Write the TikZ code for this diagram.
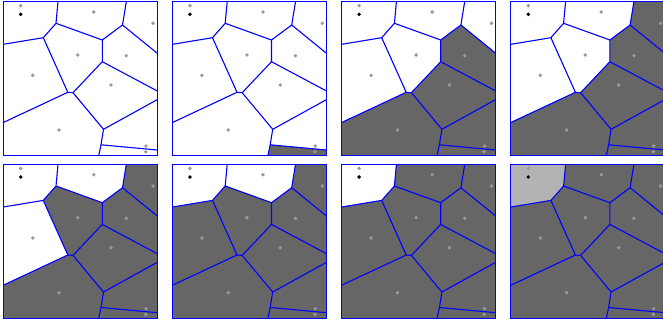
\documentclass[tikz,border=0pt]{standalone}
\definecolor{vblue}{RGB}{0,0,255}
\definecolor{vdark}{RGB}{102,102,102}
\definecolor{vlight}{RGB}{179,179,179}
\definecolor{vsite}{RGB}{153,153,153}
\tikzset{
  vedge/.style={draw=vblue, line width=1.1pt, line join=round},
  vframe/.style={draw=vblue, line width=1.1pt},
  vsitedot/.style={fill=vsite, draw=none},
  vquery/.style={fill=black, draw=none},
}
\newcommand\vcoords{%
  \coordinate (TL) at (3.3,1.7);
  \coordinate (TR) at (157.3,1.7);
  \coordinate (BR) at (157.3,155.6);
  \coordinate (BL) at (3.3,155.6);
  \coordinate (A) at (58,1.7);
  \coordinate (B) at (56,23.3);
  \coordinate (C) at (43.3,37.7);
  \coordinate (D) at (3.3,44.3);
  \coordinate (E) at (102.3,40);
  \coordinate (F) at (122.5,25);
  \coordinate (G) at (126.3,1.7);
  \coordinate (H) at (157.3,53.3);
  \coordinate (I) at (102.3,61.7);
  \coordinate (J) at (157.3,91);
  \coordinate (K) at (73,92.7);
  \coordinate (L) at (67.8,92.3);
  \coordinate (M) at (3.3,122.5);
  \coordinate (N) at (103.5,129.3);
  \coordinate (O) at (157.3,99.6);
  \coordinate (P) at (101,144.8);
  \coordinate (Q) at (98.7,155.6);
  \coordinate (R) at (157.3,150);
}
\expandafter\def\csname vc1\endcsname{(TL) -- (A) -- (B) -- (C) -- (D) -- cycle}
\expandafter\def\csname vc2\endcsname{(A) -- (G) -- (F) -- (E) -- (B) -- cycle}
\expandafter\def\csname vc3\endcsname{(G) -- (TR) -- (H) -- (F) -- cycle}
\expandafter\def\csname vc4\endcsname{(D) -- (C) -- (L) -- (M) -- cycle}
\expandafter\def\csname vc5\endcsname{(B) -- (E) -- (I) -- (K) -- (L) -- (C) -- cycle}
\expandafter\def\csname vc6\endcsname{(F) -- (H) -- (J) -- (I) -- (E) -- cycle}
\expandafter\def\csname vc7\endcsname{(I) -- (J) -- (O) -- (N) -- (K) -- cycle}
\expandafter\def\csname vc8\endcsname{(M) -- (L) -- (K) -- (N) -- (P) -- (Q) -- (BL) -- cycle}
\expandafter\def\csname vc9\endcsname{(N) -- (O) -- (R) -- (P) -- cycle}
\expandafter\def\csname vc10\endcsname{(P) -- (R) -- (BR) -- (Q) -- cycle}
% #1 dx, #2 dy, #3 dark cells, #4 light cells
\newcommand\vorpanel[4]{%
  \begin{scope}[shift={(#1,#2)}]
    \vcoords
    \foreach \c in {#3} {%
      \expandafter\let\expandafter\vcurcell\csname vc\c\endcsname
      \fill[vdark] \vcurcell;
    }
    \foreach \c in {#4} {%
      \expandafter\let\expandafter\vcurcell\csname vc\c\endcsname
      \fill[vlight] \vcurcell;
    }
    \draw[vedge] (A) -- (B) -- (C) -- (D);
    \draw[vedge] (B) -- (E) -- (F) -- (G);
    \draw[vedge] (F) -- (H);
    \draw[vedge] (E) -- (I) -- (J);
    \draw[vedge] (I) -- (K) -- (L) -- (C);
    \draw[vedge] (L) -- (M);
    \draw[vedge] (K) -- (N) -- (O);
    \draw[vedge] (N) -- (P) -- (Q);
    \draw[vedge] (P) -- (R);
    \draw[vframe] (TL) rectangle (BR);
    \foreach \p in {(20.7,5.7),(93.7,12),(153,23.3),(77.7,55),(126.3,55.7),
                    (32.7,75.3),(111,85),(59,130),(146,146),(145.7,151.7)}
      \fill[vsitedot] \p circle (1.9);
    \fill[vquery] (20.7,14.3) circle (1.9);
  \end{scope}
}
\begin{document}
\begin{tikzpicture}[x=1pt,y=-1pt]
  \useasboundingbox (0,0) rectangle (663,322);
  \clip (0,0) rectangle (663,322);
  \vorpanel{0}{0}{}{}
  \vorpanel{169.2}{0}{10}{}
  \vorpanel{338.4}{0}{10,9,7,8,6}{}
  \vorpanel{507.6}{0}{10,9,7,8,6,3}{}
  \vorpanel{0}{162.7}{10,9,7,8,6,3,5}{}
  \vorpanel{169.2}{162.7}{10,9,7,8,6,3,5,4}{}
  \vorpanel{338.4}{162.7}{10,9,7,8,6,3,5,4,2}{}
  \vorpanel{507.6}{162.7}{10,9,7,8,6,3,5,4,2}{1}
\end{tikzpicture}
\end{document}
